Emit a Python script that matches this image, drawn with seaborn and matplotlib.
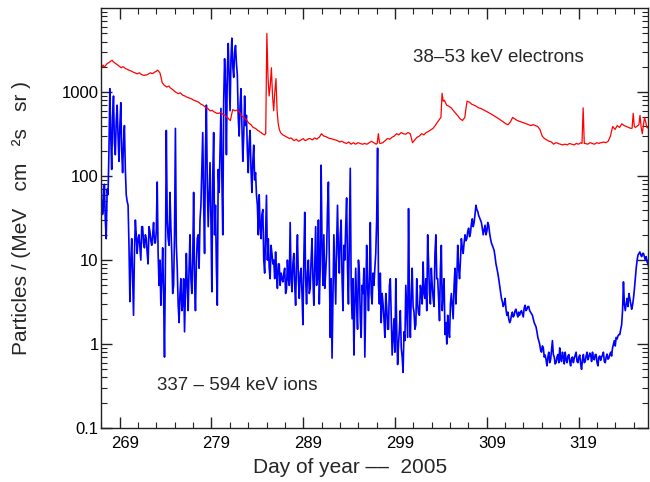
import numpy as np
import pandas as pd
import matplotlib
matplotlib.use("Agg")
import matplotlib.pyplot as plt
import matplotlib.transforms as mtransforms
from matplotlib.ticker import FixedLocator, LogLocator, NullFormatter, FuncFormatter
import seaborn as sns

# --------------------------------------------------------------
# Datos (dia del año 2005, flujo de particulas)
# --------------------------------------------------------------

# 337 - 594 keV iones: picos, un valor cada ~0.2 dias desde el dia 266.9
ion_flux = [
    120, 35, 80, 18, 60,          # 266
    1100, 120, 900, 180, 700,     # 267
    150, 750, 110, 400, 60,       # 268
    45, 3.2, 18, 2.2, 30,         # 269
    12, 20, 10, 25, 14,           # 270
    18, 9, 22, 15, 28,            # 271
    16, 85, 5, 2.9, 14,           # 272
    0.7, 350, 18, 64, 12,         # 273
    5, 370, 8, 1.8, 6,            # 274
    3, 1.4, 12, 2.5, 20,          # 275
    4, 64, 2.5, 18, 8,            # 276
    45, 330, 12, 700, 25,         # 277
    145, 4.2, 330, 45, 2.9,       # 278
    64, 640, 20, 2500, 180,       # 279
    3800, 600, 4400, 1500, 3600,  # 280
    1600, 300, 1100, 150, 900,    # 281
    530, 110, 350, 64, 234,       # 282
    110, 45, 60, 18, 40,          # 283
    7, 59, 18, 6, 12,             # 284
    10, 12.5, 4.6, 9, 7,          # 285
    5.5, 8, 4.5, 6, 28,           # 286
    4.2, 12, 2.9, 20, 3.5,        # 287
    8, 1.7, 37, 3, 10,            # 288
    4.6, 18, 2.9, 25, 6,          # 289
    3, 135, 5, 4.6, 12,           # 290
    85, 1.2, 0.68, 20, 3,         # 291
    45, 7, 30, 2.5, 10,           # 292
    55, 3, 124, 2, 0.74,          # 293
    8, 1.5, 7, 1.2, 4,            # 294
    0.7, 15, 2.5, 28, 3,          # 295
    5, 12, 215, 3, 1.8,           # 296
    3, 1.2, 2.8, 1.5, 6,          # 297
    0.74, 2, 6, 0.57, 1.5,        # 298
    0.9, 0.46, 1.1, 2.5, 41,      # 299
    1.2, 8, 2.4, 1.7, 3,          # 300
    2.2, 4, 9.5, 3.5, 2.5,        # 301
    9.5, 3, 5, 2.8, 20,           # 302
    6, 1.9, 15, 4, 1.3,           # 303
    1.0, 1.5, 3, 2.8, 5,          # 304
    3, 15, 6, 18, 12,             # 305
    20, 18, 24, 21, 31,           # 306
    28, 45, 38, 32, 28,           # 307
    20, 26, 22, 26, 18,           # 308
    15, 13, 9, 7, 5,              # 309
    3.5, 2.8, 3.5, 2.2, 2.0,      # 310
    1.9, 2.4, 2.2, 2.6, 2.1,      # 311
    2.2, 2.5, 2.1, 2.9, 2.6,      # 312
    2.8, 2.4, 2.2, 1.8, 1.6,      # 313
    1.2, 1.0, 0.8, 0.9, 0.74,     # 314
    0.55, 0.8, 0.65, 1.1, 0.7,    # 315
    0.6, 0.75, 0.9, 0.62, 0.7,    # 316
    0.8, 0.6, 0.75, 0.55, 0.7,    # 317
    0.68, 0.8, 0.6, 0.74, 0.5,    # 318
    0.75, 0.62, 0.8, 0.7, 0.74,   # 319
    0.8, 0.65, 0.75, 0.55, 0.72,  # 320
    0.7, 0.8, 0.6, 0.76, 0.68,    # 321
    0.8, 0.9, 1.1, 1.2, 1.25,     # 322
    1.3, 1.7, 5.5, 2.5, 3.5,      # 323
    4, 3, 2.9, 4.5, 8,            # 324
    11.5, 12.5, 11, 12, 10,       # 325
    9.5, 8, 7.5, 7.2,             # 326
]

# iones: nivel del nucleo entre cada par de picos (medio paso despues)
ion_core = [
    60, 45, 30, 70, 200,          # 266
    300, 500, 250, 450, 300,      # 267
    400, 200, 250, 120, 50,       # 268
    15, 10, 6, 12, 20,            # 269
    18, 14, 25, 16, 20,           # 270
    12, 25, 17, 20, 16,           # 271
    22, 12, 10, 6, 4,             # 272
    9, 30, 15, 25, 4,             # 273
    20, 15, 3, 4, 2.5,            # 274
    6, 4, 5, 8, 6,                # 275
    10, 6, 9, 20, 30,             # 276
    120, 50, 200, 80, 60,         # 277
    30, 100, 20, 8, 120,          # 278
    200, 100, 800, 1200, 1800,    # 279
    1500, 2500, 2000, 3000, 2200, # 280
    500, 700, 400, 300, 400,      # 281
    200, 250, 120, 150, 90,       # 282
    60, 20, 25, 35, 10,           # 283
    20, 10, 8, 15, 9,             # 284
    6, 7, 9, 5, 6,                # 285
    7, 4, 10, 5, 6,               # 286
    9, 5, 10, 6, 7,               # 287
    4, 10, 6, 7, 4,               # 288
    10, 6, 9, 5, 30,              # 289
    8, 15, 20, 7, 40,             # 290
    10, 6, 4, 8, 15,              # 291
    12, 20, 6, 15, 25,            # 292
    8, 20, 5, 6, 3,               # 293
    3, 10, 2, 5, 8,               # 294
    3, 5, 6, 4, 7,                # 295
    8, 30, 5, 7, 4,               # 296
    2, 4, 1.5, 5, 2,              # 297
    1.2, 0.8, 1.5, 1.0, 2.5,      # 298
    0.7, 1.4, 5, 1.2, 3,          # 299
    4, 2.8, 1.5, 6, 2.3,          # 300
    5, 3, 4, 6, 20,               # 301
    4, 8, 3.5, 12, 6,             # 302
    3.5, 8, 2.5, 6, 1.8,          # 303
    2.2, 1.2, 4, 2, 8,            # 304
    6, 8, 10, 14, 16,             # 305
    17, 22, 19, 27, 25,           # 306
    35, 40, 34, 30, 24,           # 307
    23, 20, 28, 21, 16,           # 308
    14, 11, 8, 6, 4.2,            # 309
    3.2, 3.0, 2.6, 2.4, 1.8,      # 310
    2.2, 2.1, 2.5, 2.3, 2.4,      # 311
    2.4, 2.3, 2.7, 2.5, 2.8,      # 312
    2.5, 2.3, 2.0, 1.7, 1.4,      # 313
    1.1, 0.85, 0.95, 0.7, 0.65,   # 314
    0.7, 0.6, 0.85, 0.75, 0.58,   # 315
    0.7, 0.6, 0.68, 0.8, 0.58,    # 316
    0.65, 0.72, 0.62, 0.68, 0.6,  # 317
    0.74, 0.62, 0.7, 0.58, 0.66,  # 318
    0.6, 0.72, 0.65, 0.78, 0.62,  # 319
    0.68, 0.75, 0.6, 0.7, 0.64,   # 320
    0.74, 0.62, 0.7, 0.66, 0.75,  # 321
    0.72, 1.0, 0.95, 1.15, 1.3,   # 322
    1.5, 2.5, 3, 3, 2.8,          # 323
    3.5, 2.6, 3.5, 6, 10,         # 324
    12, 11.5, 12, 11, 11,         # 325
    9, 8.5, 7.8, 7,               # 326
]

# 38-53 keV electrones, un valor cada ~0.25 dias desde el dia 266.9
electron_flux = [
    2000, 2100, 2050, 2200,   # 266
    2300, 2400, 2250, 2150,   # 267
    2050, 1950, 2000, 1900,   # 268
    1850, 1800, 1750, 1700,   # 269
    1650, 1700, 1620, 1580,   # 270
    1600, 1650, 1700, 1680,   # 271
    1750, 1830, 1700, 1300,   # 272
    1200, 1150, 1180, 1100,   # 273
    1050, 1000, 960, 980,     # 274
    920, 900, 870, 850,       # 275
    830, 800, 780, 760,       # 276
    720, 700, 660, 640,       # 277
    600, 610, 580, 560,       # 278
    560, 570, 540, 520,       # 279
    490, 460, 620, 600,       # 280
    610, 580, 520, 500,       # 281
    470, 430, 410, 380,       # 282
    370, 350, 335, 320,       # 283
    310, 5000, 900, 1950,     # 284
    600, 1450, 420, 330,      # 285
    310, 300, 290, 280,       # 286
    280, 265, 275, 260,       # 287
    270, 280, 265, 275,       # 288
    280, 270, 285, 275,       # 289
    290, 320, 300, 295,       # 290
    285, 280, 275, 270,       # 291
    265, 255, 260, 250,       # 292
    245, 255, 240, 250,       # 293
    240, 250, 245, 240,       # 294
    245, 240, 250, 260,       # 295
    250, 240, 320, 245,       # 296
    250, 265, 280, 275,       # 297
    290, 300, 320, 310,       # 298
    330, 320, 315, 330,       # 299
    320, 250, 270, 290,       # 300
    300, 320, 310, 330,       # 301
    340, 355, 370, 400,       # 302
    440, 480, 970, 800,       # 303
    700, 680, 650, 600,       # 304
    560, 520, 480, 460,       # 305
    500, 780, 760, 720,       # 306
    700, 680, 650, 640,       # 307
    620, 600, 580, 560,       # 308
    540, 520, 500, 480,       # 309
    460, 440, 420, 410,       # 310
    440, 500, 480, 460,       # 311
    450, 440, 430, 420,       # 312
    410, 400, 410, 400,       # 313
    390, 360, 300, 280,       # 314
    270, 260, 255, 240,       # 315
    250, 245, 240, 235,       # 316
    240, 235, 245, 240,       # 317
    235, 245, 240, 250,       # 318
    650, 245, 240, 250,       # 319
    245, 240, 250, 245,       # 320
    250, 255, 250, 260,       # 321
    300, 390, 360, 400,       # 322
    380, 420, 400, 390,       # 323
    380, 370, 560, 380,       # 324
    400, 530, 320, 500,       # 325
    380, 370, 360,            # 326
]

# electrones: valores intermedios (medio paso despues)
electron_mid = [
    1950, 2000, 2150, 2250,   # 266
    2350, 2300, 2200, 2100,   # 267
    2000, 2000, 1950, 1880,   # 268
    1820, 1780, 1720, 1680,   # 269
    1680, 1650, 1600, 1600,   # 270
    1620, 1680, 1660, 1720,   # 271
    1780, 1760, 1500, 1250,   # 272
    1180, 1170, 1130, 1080,   # 273
    1020, 980, 970, 950,      # 274
    910, 880, 860, 840,       # 275
    810, 790, 770, 740,       # 276
    710, 680, 650, 620,       # 277
    600, 590, 570, 560,       # 278
    570, 550, 530, 500,       # 279
    470, 540, 610, 610,       # 280
    590, 550, 510, 480,       # 281
    450, 420, 395, 375,       # 282
    360, 345, 330, 315,       # 283
    320, 1500, 1200, 900,     # 284
    1000, 600, 360, 320,      # 285
    305, 295, 285, 285,       # 286
    270, 270, 265, 265,       # 287
    275, 270, 270, 280,       # 288
    275, 278, 280, 285,       # 289
    305, 310, 298, 290,       # 290
    282, 278, 272, 268,       # 291
    260, 258, 255, 248,       # 292
    250, 248, 245, 245,       # 293
    245, 248, 242, 242,       # 294
    242, 245, 255, 255,       # 295
    245, 245, 248, 248,       # 296
    258, 272, 278, 282,       # 297
    295, 310, 315, 320,       # 298
    325, 318, 322, 325,       # 299
    285, 260, 280, 295,       # 300
    310, 315, 320, 335,       # 301
    348, 362, 385, 420,       # 302
    460, 500, 780, 750,       # 303
    690, 665, 625, 580,       # 304
    540, 500, 470, 480,       # 305
    640, 770, 740, 710,       # 306
    690, 665, 645, 630,       # 307
    610, 590, 570, 550,       # 308
    530, 510, 490, 470,       # 309
    450, 430, 415, 425,       # 310
    470, 490, 470, 455,       # 311
    445, 435, 425, 415,       # 312
    405, 405, 405, 395,       # 313
    375, 330, 290, 275,       # 314
    265, 258, 248, 245,       # 315
    248, 242, 238, 238,       # 316
    238, 240, 242, 238,       # 317
    240, 242, 245, 245,       # 318
    245, 242, 245, 248,       # 319
    242, 245, 248, 250,       # 320
    252, 252, 255, 280,       # 321
    345, 375, 380, 390,       # 322
    400, 410, 395, 385,       # 323
    375, 372, 390, 390,       # 324
    410, 380, 410, 440,       # 325
    375, 365, 355,            # 326
]

major_days = [269, 279, 289, 299, 309, 319]
y_ticks = [0.1, 1, 10, 100, 1000]
y_labels = ["0.1", "1", "10", "100", "1000"]

# Tablas para seaborn (picos y valores intermedios alternados)
ion_vals = np.column_stack((ion_flux, ion_core)).ravel()
ele_vals = np.column_stack((electron_flux, electron_mid)).ravel()
iones = pd.DataFrame({
    "dia": 266.93 + 0.09925 * np.arange(len(ion_vals)),
    "flujo": ion_vals,
})
electrones = pd.DataFrame({
    "dia": 266.93 + 0.124 * np.arange(len(ele_vals)),
    "flujo": ele_vals,
})

sns.set_style("ticks")
plt.rcParams["font.family"] = ["Liberation Sans", "DejaVu Sans"]

fig = plt.figure(figsize=(6.5, 4.82), dpi=100)
ax = fig.add_axes([0.155, 0.112, 0.842, 0.871])

sns.lineplot(data=iones, x="dia", y="flujo", color="#0000ff", lw=1.2,
             estimator=None, sort=False, ax=ax)
sns.lineplot(data=electrones, x="dia", y="flujo", color="#ff0000", lw=0.9,
             estimator=None, sort=False, ax=ax)

ax.set_yscale("log")
ax.set_xlim(266.93, 326.58)
ax.set_ylim(0.1, 10000)

ax.xaxis.set_major_locator(FixedLocator(major_days))
ax.xaxis.set_minor_locator(FixedLocator(np.arange(267, 327, 2)))
ax.yaxis.set_major_locator(FixedLocator(y_ticks))
ax.yaxis.set_major_formatter(FuncFormatter(lambda v, p: y_labels[y_ticks.index(v)] if v in y_ticks else ""))
ax.yaxis.set_minor_locator(LogLocator(base=10, subs=np.arange(2, 10)))
ax.yaxis.set_minor_formatter(NullFormatter())

ax.tick_params(which="both", direction="in", top=True, right=True,
               colors="#222222", labelcolor="black", labelsize=12)
ax.tick_params(which="major", length=8, width=1)
ax.tick_params(which="minor", length=4, width=0.8)
ax.tick_params(axis="x", pad=6)
ax.tick_params(axis="y", pad=1.5)
for s in ax.spines.values():
    s.set_linewidth(1)
    s.set_color("#222222")

# etiquetas del eje x un poco a la derecha del tick, como en el original
off = mtransforms.ScaledTranslation(5 / 100, 0, fig.dpi_scale_trans)
for lab in ax.get_xticklabels():
    lab.set_transform(lab.get_transform() + off)

ax.set_xlabel("Day of year ––  2005", fontsize=15)
ax.xaxis.set_label_coords(0.455, -0.072)
ax.set_ylabel("Particles / (MeV   cm   ²s   sr )", fontsize=15)
ax.yaxis.set_label_coords(-0.128, 0.5)

ax.text(310.3, 2600, "38–53 keV electrons", fontsize=13.5, ha="center", va="center")
ax.text(281.8, 0.325, "337 – 594 keV ions", fontsize=13.5, ha="center", va="center")

fig.savefig("out.png", dpi=100)
